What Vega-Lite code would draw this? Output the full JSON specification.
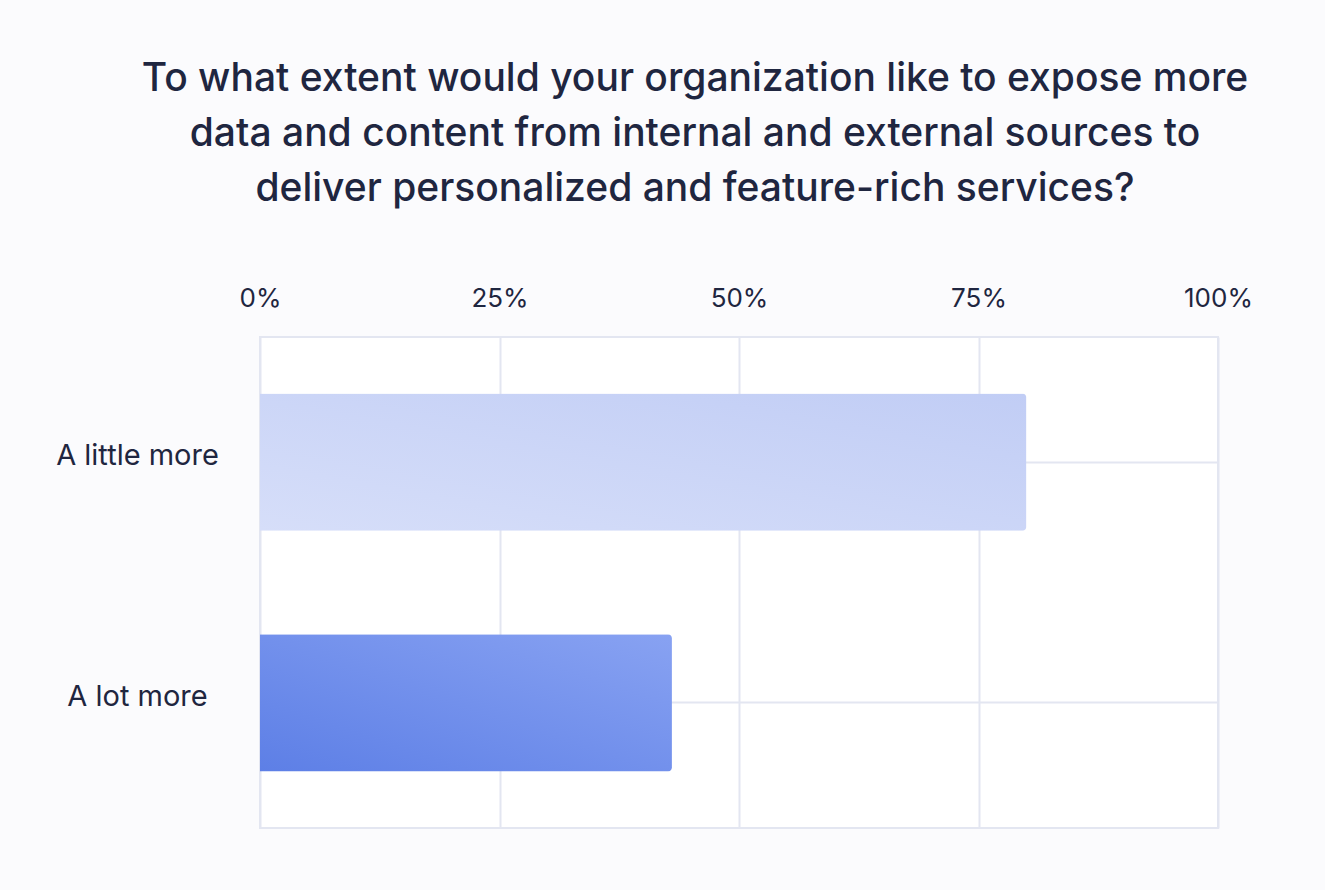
{
  "$schema": "https://vega.github.io/schema/vega-lite/v6.json",
  "autosize": "none",
  "width": 958,
  "height": 491,
  "padding": {"left": 260, "top": 337, "right": 107, "bottom": 62},
  "background": "#fbfbfd",
  "title": {
    "text": ["To what extent would your organization like to expose more", "data and content from internal and external sources to", "deliver personalized and feature-rich services?"],
    "anchor": "middle",
    "frame": "group",
    "dx": -44,
    "offset": 76,
    "font": "Inter",
    "fontSize": 39,
    "fontWeight": 500,
    "color": "#1f2640",
    "lineHeight": 55
  },
  "data": {
    "values": [
      {"response": "A little more", "share": 0.80},
      {"response": "A lot more", "share": 0.43}
    ]
  },
  "config": {
    "view": {"stroke": "#e3e6f1", "strokeWidth": 2, "fill": "#ffffff"},
    "axis": {"labelFont": "Inter", "labelColor": "#1f2640", "gridColor": "#e3e6f1", "gridWidth": 2, "gridOpacity": 1, "domain": false, "ticks": false, "title": null}
  },
  "encoding": {
    "y": {
      "field": "response",
      "type": "nominal",
      "sort": ["A little more", "A lot more"],
      "scale": {"paddingInner": 0.43, "paddingOuter": 0.234},
      "axis": {"labelFontSize": 29, "labelAlign": "center", "labelPadding": 123, "labelOffset": -6, "grid": true, "bandPosition": 0.5}
    },
    "x": {
      "field": "share",
      "type": "quantitative",
      "scale": {"domain": [0, 1]},
      "axis": {"orient": "top", "format": ".0%", "values": [0, 0.25, 0.5, 0.75, 1], "labelFontSize": 26, "labelPadding": 26, "labelFlush": false, "grid": true}
    }
  },
  "layer": [
    {
      "transform": [{"filter": "datum.response === 'A little more'"}],
      "mark": {"type": "bar", "cornerRadiusEnd": 4, "color": {"gradient": "linear", "x1": 0, "y1": 1, "x2": 1, "y2": 0, "stops": [{"offset": 0, "color": "#d6def9"}, {"offset": 1, "color": "#c1cdf5"}]}}
    },
    {
      "transform": [{"filter": "datum.response === 'A lot more'"}],
      "mark": {"type": "bar", "cornerRadiusEnd": 4, "color": {"gradient": "linear", "x1": 0, "y1": 1, "x2": 1, "y2": 0, "stops": [{"offset": 0, "color": "#5d7fe6"}, {"offset": 1, "color": "#88a2f2"}]}}
    }
  ]
}
